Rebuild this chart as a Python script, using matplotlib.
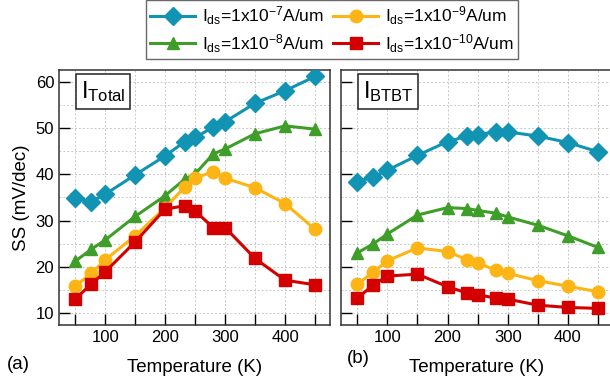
import numpy as np
import matplotlib
matplotlib.use('Agg')
import matplotlib.pyplot as plt

plt.rcParams['font.family'] = ['Liberation Sans', 'DejaVu Sans']
plt.rcParams['mathtext.fontset'] = 'custom'
plt.rcParams['mathtext.rm'] = 'Liberation Sans'
plt.rcParams['mathtext.it'] = 'Liberation Sans'

# temperatures (K)
temp = [50, 77, 100, 150, 200, 233, 250, 280, 300, 350, 400, 450]

# SS (mV/dec), total current
total_7 = [34.8, 34.1, 35.7, 39.9, 44.0, 47.1, 48.0, 50.2, 51.4, 55.4, 58.1, 61.2]
total_8 = [21.2, 23.8, 25.8, 30.9, 35.4, 39.0, 40.1, 44.4, 45.5, 48.8, 50.5, 49.8]
total_9 = [15.8, 18.6, 21.5, 26.7, 32.8, 37.3, 39.2, 40.6, 39.2, 37.1, 33.7, 28.1]
total_10 = [13.0, 16.3, 18.9, 25.4, 32.5, 33.2, 32.1, 28.5, 28.5, 21.8, 17.1, 16.1]

# SS (mV/dec), BTBT current
btbt_7 = [38.4, 39.5, 40.9, 44.1, 47.1, 48.3, 48.6, 49.2, 49.2, 48.3, 46.9, 44.9]
btbt_8 = [23.0, 25.0, 27.1, 31.2, 32.8, 32.6, 32.2, 31.6, 30.8, 29.0, 26.7, 24.2]
btbt_9 = [16.2, 18.9, 21.3, 24.1, 23.3, 21.5, 20.8, 19.3, 18.6, 17.0, 15.8, 14.6]
btbt_10 = [13.2, 16.1, 18.0, 18.4, 15.7, 14.3, 14.0, 13.2, 13.0, 11.7, 11.2, 11.0]

labels = [r'$\mathregular{I_{ds}}$=1x10$\mathregular{^{-7}}$A/um',
          r'$\mathregular{I_{ds}}$=1x10$\mathregular{^{-8}}$A/um',
          r'$\mathregular{I_{ds}}$=1x10$\mathregular{^{-9}}$A/um',
          r'$\mathregular{I_{ds}}$=1x10$\mathregular{^{-10}}$A/um']
colors = ['#1193b4', '#3f9e2a', '#fdb515', '#d40000']
markers = ['D', '^', 'o', 's']
msizes = [9, 9, 9, 8]

fig = plt.figure(figsize=(6.1, 3.9), dpi=100)
ax1 = fig.add_axes([59/610, 65/390, 271/610, 255/390])
ax2 = fig.add_axes([341/610, 65/390, 272/610, 255/390])

panels = [(ax1, [total_7, total_8, total_9, total_10], 'Total'),
          (ax2, [btbt_7, btbt_8, btbt_9, btbt_10], 'BTBT')]

handles = []
for ax, series, name in panels:
    for i, ys in enumerate(series):
        h, = ax.plot(temp, ys, color=colors[i], marker=markers[i], ms=msizes[i],
                     lw=2.2, label=labels[i], zorder=3)
        if ax is ax1:
            handles.append(h)
    ax.set_xlim(23, 475)
    ax.set_ylim(7.4, 62.6)
    ax.set_xticks(np.arange(50, 451, 50))
    ax.set_xticklabels(['' if t % 100 else str(t) for t in range(50, 451, 50)])
    ax.set_yticks(np.arange(10, 61, 10))
    ax.set_yticks(np.arange(10, 61, 5), minor=True)
    ax.tick_params(direction='in', length=8, width=1, labelsize=12, top=False, right=False)
    ax.tick_params(which='minor', length=0)
    ax.grid(True, which='both', ls=(0, (2, 2)), lw=0.7, color='#c8c8c8')
    ax.set_xlabel('Temperature (K)', fontsize=13.5, labelpad=10)
    for s in ax.spines.values():
        s.set_linewidth(1.1)
        s.set_color('#333333')
    ax.text(0.08, 0.965, r'$\mathregular{I_{%s}}$' % name, transform=ax.transAxes,
            fontsize=17, va='top', ha='left',
            bbox=dict(boxstyle='square,pad=0.2', fc='white', ec='#222222', lw=1.1))

ax2.set_yticklabels([])
ax1.set_ylabel('SS (mV/dec)', fontsize=13.5, labelpad=4)

fig.text(0.012, 0.055, '(a)', fontsize=13.5)
fig.text(0.568, 0.07, '(b)', fontsize=13.5)

leg = fig.legend(handles=handles, ncol=2, loc='upper center',
                 bbox_to_anchor=(332/610, 1.0), fontsize=12.5, frameon=True,
                 fancybox=False, edgecolor='#444444', handlelength=2.6,
                 columnspacing=0.5, handletextpad=0.4, labelspacing=0.3,
                 borderpad=0.25, borderaxespad=0.0)
leg.get_frame().set_linewidth(1.0)

fig.savefig('out.png', dpi=100)
